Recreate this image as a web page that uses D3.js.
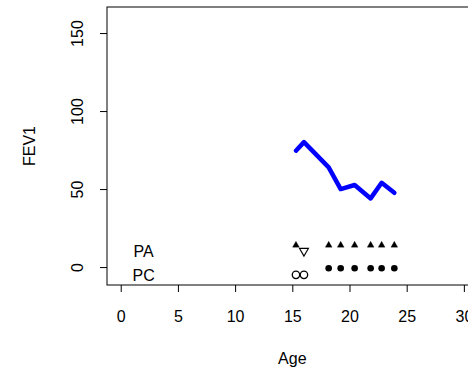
<!DOCTYPE html>
<html>
<head>
<meta charset="utf-8">
<script src="https://cdn.jsdelivr.net/npm/d3@7/dist/d3.min.js"></script>
<style>
  html, body { margin: 0; padding: 0; background: #fff; }
  svg { display: block; }
  text { font-family: "Liberation Sans", Arial, sans-serif; fill: #000; }
</style>
</head>
<body>
<script>
// FEV1 measurements by age
const age  = [15.32, 16.02, 18.18, 19.23, 20.45, 21.85, 22.81, 23.92];
const fev1 = [74.6, 80.1, 63.9, 50.0, 52.6, 44.0, 54.0, 47.6];
// Infection status at each visit (1 = positive, 0 = negative)
const paStatus = [1, 0, 1, 1, 1, 1, 1, 1];
const pcStatus = [0, 0, 1, 1, 1, 1, 1, 1];
// Rows for the status markers: [filled level, open level, label level]
const paRow = [14, 10.3, 10];
const pcRow = [-0.8, -5, -5];
const xTicks = [0, 5, 10, 15, 20, 25, 30];
const yTicks = [0, 50, 100, 150];

const W = 468, H = 369;
const svg = d3.select("body").append("svg").attr("width", W).attr("height", H);

const x = d3.scaleLinear().domain([-1.2, 31.2]).range([107, 477.6]);
const y = d3.scaleLinear().domain([-11.5, 166.7]).range([285, 7]);

// plot frame
svg.append("rect")
  .attr("x", x(-1.2)).attr("y", y(166.7))
  .attr("width", x(31.2) - x(-1.2)).attr("height", y(-11.5) - y(166.7))
  .attr("fill", "none").attr("stroke", "#000").attr("stroke-width", 1);

// x axis
const gx = svg.append("g").attr("transform", `translate(0,${y(-11.5)})`)
  .call(d3.axisBottom(x).tickValues(xTicks).tickSize(7).tickPadding(19).tickFormat(d3.format("d")));
gx.select(".domain").remove();
gx.selectAll("line").attr("stroke", "#000");
gx.selectAll("text").attr("font-size", 16).attr("font-family", "Liberation Sans, Arial, sans-serif").attr("fill", "#000");

// y axis with rotated labels
const gy = svg.append("g").attr("transform", `translate(${x(-1.2)},0)`)
  .call(d3.axisLeft(y).tickValues(yTicks).tickSize(7).tickFormat(d3.format("d")));
gy.select(".domain").remove();
gy.selectAll("line").attr("stroke", "#000");
gy.selectAll("text")
  .attr("x", null).attr("dy", null)
  .attr("font-size", 16).attr("font-family", "Liberation Sans, Arial, sans-serif").attr("fill", "#000")
  .attr("text-anchor", "middle")
  .attr("transform", "translate(-23.7,0) rotate(-90)");

// axis titles
svg.append("text").attr("x", (x(0) + x(30)) / 2).attr("y", 363.5)
  .attr("text-anchor", "middle").attr("font-size", 16).text("Age");
svg.append("text").attr("transform", `translate(35,${(y(-11.5) + y(166.7)) / 2}) rotate(-90)`)
  .attr("text-anchor", "middle").attr("font-size", 16).text("FEV1");

// FEV1 trajectory
const pts = age.map((a, i) => [a, fev1[i]]);
svg.append("path")
  .attr("d", d3.line().x(d => x(d[0])).y(d => y(d[1]))(pts))
  .attr("fill", "none").attr("stroke", "#0000ff").attr("stroke-width", 4.5)
  .attr("stroke-linejoin", "round").attr("stroke-linecap", "round");

// row labels
svg.append("text").attr("x", x(2)).attr("y", y(paRow[2])).attr("dy", "0.36em")
  .attr("text-anchor", "middle").attr("font-size", 16).text("PA");
svg.append("text").attr("x", x(2)).attr("y", y(pcRow[2])).attr("dy", "0.36em")
  .attr("text-anchor", "middle").attr("font-size", 16).text("PC");

// PA markers: filled up-triangle if positive, open down-triangle if negative
const tri = d3.symbol().type(d3.symbolTriangle).size(20)();
svg.append("g").selectAll("path").data(age.map((a, i) => ({ a, s: paStatus[i] })))
  .join("path")
  .attr("d", tri)
  .attr("transform", d => d.s
    ? `translate(${x(d.a)},${y(paRow[0])})`
    : `translate(${x(d.a)},${y(paRow[1])}) rotate(180) scale(1.3)`)
  .attr("fill", d => d.s ? "#000" : "#fff")
  .attr("stroke", "#000")
  .attr("stroke-width", d => d.s ? 0.3 : 0.9);

// PC markers: filled circle if positive, open circle if negative
svg.append("g").selectAll("circle").data(age.map((a, i) => ({ a, s: pcStatus[i] })))
  .join("circle")
  .attr("cx", d => x(d.a))
  .attr("cy", d => y(d.s ? pcRow[0] : pcRow[1]))
  .attr("r", d => d.s ? 3.3 : 3.7)
  .attr("fill", d => d.s ? "#000" : "none")
  .attr("stroke", d => d.s ? "none" : "#000")
  .attr("stroke-width", 1.3);
</script>
</body>
</html>
